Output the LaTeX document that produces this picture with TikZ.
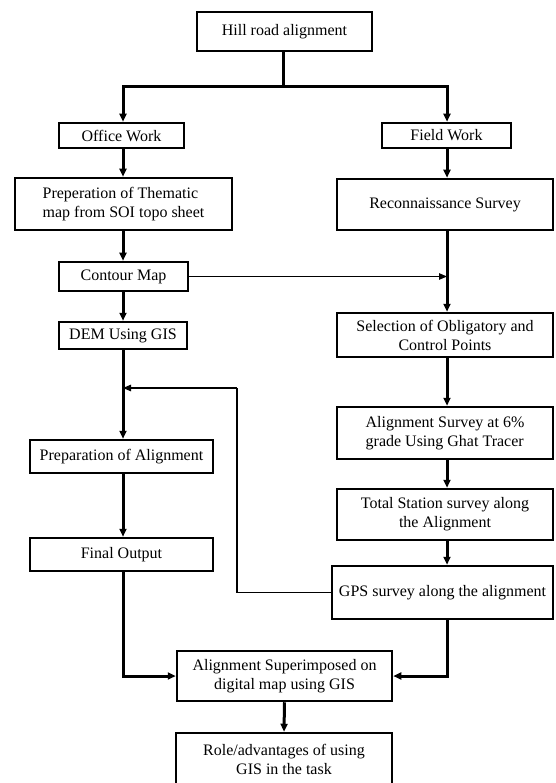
\documentclass[tikz,border=0pt]{standalone}
\usepackage{fontspec}
\setmainfont{Liberation Serif}
\usetikzlibrary{arrows.meta}
\begin{document}
\begin{tikzpicture}[x=1pt,y=-1pt,
  box/.style={draw=black,line width=2.5pt,fill=white,inner sep=3pt,align=center,
    font=\fontsize{16}{19}\selectfont},
  conn/.style={line width=3pt},
  arr/.style={line width=3pt,-{Triangle[length=8pt,width=7pt]}},
  tarr/.style={line width=1.2pt,-{Triangle[length=8pt,width=6.5pt]}},
  tline/.style={line width=1.2pt}]
\useasboundingbox (0,0) rectangle (555,783);
% nodes
\node[box,minimum width=175pt,minimum height=39pt] (hill) at (284.5,31.5) {Hill road alignment};
\node[box,minimum width=125pt,minimum height=25pt] (office) at (121.5,135.5) {Office Work};
\node[box,minimum width=129pt,minimum height=25pt] (field) at (446.5,135.5) {Field Work};
\node[box,minimum width=217pt,minimum height=52pt,align=left] (prep) at (123.5,204) {Preperation of Thematic\\map from SOI topo sheet};
\node[box,minimum width=216pt,minimum height=51pt] (recon) at (445,204.5) {Reconnaissance Survey};
\node[box,minimum width=129pt,minimum height=29pt] (contour) at (123.5,276.5) {Contour Map};
\node[box,minimum width=128pt,minimum height=27pt] (dem) at (123,335.5) {DEM Using GIS};
\node[box,minimum width=216pt,minimum height=44pt] (select) at (445,335) {Selection of Obligatory and\\Control Points};
\node[box,minimum width=183pt,minimum height=33pt] (prepal) at (121.5,456.5) {Preparation of Alignment};
\node[box,minimum width=216pt,minimum height=52pt,align=left] (alsurv) at (445,433) {Alignment Survey at 6\%\\grade Using Ghat Tracer};
\node[box,minimum width=216pt,minimum height=51pt] (total) at (445,514.5) {Total Station survey along\\the Alignment};
\node[box,minimum width=183pt,minimum height=33pt] (final) at (121.5,554.5) {Final Output};
\node[box,minimum width=221pt,minimum height=53pt] (gps) at (442.5,592.5) {GPS survey along the alignment};
\node[box,minimum width=215pt,minimum height=50pt] (super) at (284.5,676) {Alignment Superimposed on\\digital map using GIS};
\node[box,minimum width=216pt,minimum height=52pt] (role) at (284,759) {Role/advantages of using\\GIS in the task};
% coordinates
\coordinate (split) at (283.5,87);
\coordinate (lx) at (123,0);
\coordinate (rx) at (447,0);
\coordinate (fbtop) at (237,388);
% top split
\draw[conn] (split |- hill.south) -- (split);
\draw[arr] (split) -| (lx |- office.north);
\draw[arr] (split) -| (rx |- field.north);
% left column
\draw[arr] (lx |- office.south) -- (lx |- prep.north);
\draw[arr] (lx |- prep.south) -- (lx |- contour.north);
\draw[arr] (lx |- contour.south) -- (lx |- dem.north);
\draw[arr] (lx |- dem.south) -- (lx |- prepal.north);
\draw[arr] (lx |- prepal.south) -- (lx |- final.north);
\draw[arr] (lx |- final.south) |- (super.west);
% right column
\draw[arr] (rx |- field.south) -- (rx |- recon.north);
\draw[arr] (rx |- recon.south) -- (rx |- select.north);
\draw[arr] (rx |- select.south) -- (rx |- alsurv.north);
\draw[arr] (rx |- alsurv.south) -- (rx |- total.north);
\draw[arr] (rx |- total.south) -- (rx |- gps.north);
\draw[arr] (rx |- gps.south) |- (super.east);
% cross links
\draw[tarr] (contour.east) -- (contour.east -| rx);
\draw[tline] (gps.west) -| (fbtop);
\draw[tarr] (fbtop) -- (fbtop -| lx);
% bottom
\draw[arr] (super.south) -- (role.north);
\end{tikzpicture}
\end{document}
